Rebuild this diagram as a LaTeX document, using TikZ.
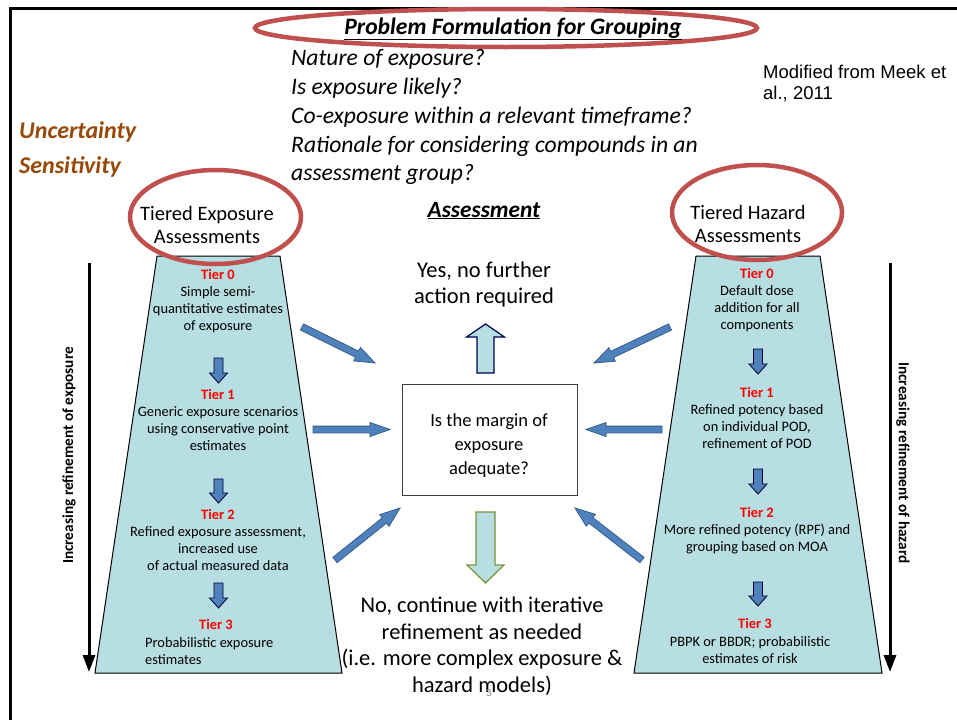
\documentclass[tikz,border=0pt]{standalone}
\usepackage{fontspec}
\setmainfont{Carlito}
\newfontfamily\arialfont{Liberation Sans}
\usetikzlibrary{calc,arrows.meta}
\definecolor{ered}{RGB}{192,80,77}
\definecolor{tblue}{RGB}{183,222,226}
\definecolor{ablue}{RGB}{79,129,189}
\definecolor{adark}{RGB}{56,93,138}
\definecolor{brownc}{RGB}{152,72,7}
\definecolor{agreen}{RGB}{119,147,60}
\newcommand{\ml}[1]{\begin{tabular}[t]{@{}c@{}}#1\end{tabular}}
\newcommand{\mll}[1]{\begin{tabular}[t]{@{}l@{}}#1\end{tabular}}
\newcommand{\tr}[1]{\textcolor{red}{\bfseries #1}}
\newcommand{\fs}[2]{\fontsize{#1}{#2}\selectfont}
% block arrow: [style]{from}{to}{shaft half}{head half}{head length}
\newcommand{\barr}[6][]{%
  \coordinate (bh) at ($(#3)!#6pt!(#2)$);
  \draw[#1] ($(#2)!#4pt!90:(#3)$) -- ($(bh)!#4pt!-90:(#2)$) -- ($(bh)!#5pt!-90:(#2)$)
    -- (#3) -- ($(bh)!#5pt!90:(#2)$) -- ($(bh)!#4pt!90:(#2)$) -- ($(#2)!#4pt!-90:(#3)$) -- cycle;}
\begin{document}
\begin{tikzpicture}[x=1pt,y=-1pt,
  every node/.style={inner sep=0pt},
  trap/.style={fill=tblue, draw=black, line width=1pt},
  ring/.style={draw=ered, line width=4.5pt},
  bluearr/.style={fill=ablue, draw=adark, line width=0.8pt, line join=miter},
  tierarr/.style={fill=ablue, draw=black!80!blue, line width=0.8pt},
  uparr/.style={fill=tblue, draw=black!70!blue, line width=1.2pt},
  downarr/.style={fill=tblue, draw=agreen, line width=1.2pt},
  sidearr/.style={line width=3pt, -{Triangle[width=12pt,length=17pt]}},
  qtext/.style={anchor=base west, font=\itshape\fs{23.6}{28}},
  bigtext/.style={anchor=base, font=\fs{22.5}{26.7}},
  tiertext/.style={anchor=base, font=\fs{14.4}{17}},
  rottext/.style={font=\bfseries\fs{15.3}{18}},
  ringtext/.style={anchor=base, font=\fs{20.5}{23}}]
\useasboundingbox (0,0) rectangle (957,720);
\fill[white] (0,0) rectangle (957,720);
% frame
\draw[line width=3pt] (957,8) -- (10,8) -- (10,720);

% trapezoids
\draw[trap] (157,256) -- (280,256) -- (342,673) -- (95,673) -- cycle;
\draw[trap] (696,256) -- (820,256) -- (882,673) -- (634,673) -- cycle;

% rings
\draw[ring] (506,28) ellipse [x radius=251pt, y radius=19pt];
\draw[ring] (215.5,217) ellipse [x radius=85.5pt, y radius=47pt];
\draw[ring] (757,212.5) ellipse [x radius=85pt, y radius=47.5pt];

% title and questions
\node[anchor=base, font=\bfseries\itshape\fs{23.6}{28}] (title) at (513,34) {\underline{Problem Formulation for Grouping}};
\node[qtext] (q1) at (291,65) {Nature of exposure?};
\node[qtext] (q2) at (291,94.5) {Is exposure likely?};
\node[qtext] (q3) at (291,123) {Co-exposure within a relevant timeframe?};
\node[qtext] (q4) at (291,152) {Rationale for considering compounds in an};
\node[qtext] (q5) at (291,180.5) {assessment group?};
\node[anchor=base west, font=\arialfont\fs{18.5}{21}] (meek) at (763,78) {\mll{Modified from Meek et\\al., 2011}};
\node[anchor=base west, font=\bfseries\itshape\fs{24}{28}, text=brownc] (unc) at (19,138) {Uncertainty};
\node[anchor=base west, font=\bfseries\itshape\fs{24}{28}, text=brownc] (sens) at (19,173) {Sensitivity};
\node[anchor=base, font=\bfseries\itshape\fs{23.3}{28}] (assess) at (484,217) {\underline{Assessment}};

% ring texts
\node[ringtext] (tex) at (207,220) {\ml{Tiered Exposure\\Assessments}};
\node[ringtext] (thz) at (748,219) {\ml{Tiered Hazard\\Assessments}};

% left tiers
\node[tiertext] (le0) at (218,279) {\ml{\tr{Tier 0}\\Simple semi-\\quantitative estimates\\of exposure}};
\node[tiertext] (le1) at (218,399) {\ml{\tr{Tier 1}\\Generic exposure scenarios\\using conservative point\\estimates}};
\node[tiertext] (le2) at (218,519) {\ml{\tr{Tier 2}\\Refined exposure assessment,\\increased use\\of actual measured data}};
\node[tiertext] (le3) at (216,629) {\tr{Tier 3}};
\node[tiertext, anchor=base west] (le3d) at (145,647) {\mll{Probabilistic exposure\\estimates}};

% right tiers
\node[tiertext] (rh0) at (757,278) {\ml{\tr{Tier 0}\\Default dose\\addition for all\\components}};
\node[tiertext] (rh1) at (757,397) {\ml{\tr{Tier 1}\\Refined potency based\\on individual POD,\\refinement of POD}};
\node[tiertext] (rh2) at (757,517) {\ml{\tr{Tier 2}\\More refined potency (RPF) and\\grouping based on MOA}};
\node[tiertext] (rh3) at (755,628) {\tr{Tier 3}};
\node[tiertext] (rh3d) at (750,646) {\ml{PBPK or BBDR; probabilistic\\estimates of risk}};

% tier arrows
\coordinate (la1s) at (218.5,358); \coordinate (la1t) at (218.5,383);
\coordinate (la2s) at (218.5,479); \coordinate (la2t) at (218.5,503);
\coordinate (la3s) at (218.5,583); \coordinate (la3t) at (218.5,608);
\coordinate (ra1s) at (758,349); \coordinate (ra1t) at (758,374);
\coordinate (ra2s) at (758,469); \coordinate (ra2t) at (758,494);
\coordinate (ra3s) at (758,582); \coordinate (ra3t) at (758,606);
\barr[tierarr]{la1s}{la1t}{4.5}{9}{10}
\barr[tierarr]{la2s}{la2t}{4.5}{9}{10}
\barr[tierarr]{la3s}{la3t}{4.5}{9}{10}
\barr[tierarr]{ra1s}{ra1t}{4.5}{9}{10}
\barr[tierarr]{ra2s}{ra2t}{4.5}{9}{10}
\barr[tierarr]{ra3s}{ra3t}{4.5}{9}{10}

% side arrows and labels
\coordinate (ls0) at (89,263); \coordinate (ls1) at (89,672);
\coordinate (rs0) at (890,263); \coordinate (rs1) at (890,672);
\draw[sidearr] (ls0) -- (ls1);
\draw[sidearr] (rs0) -- (rs1);
\node[rottext, rotate=90] (lrot) at (69,455.5) {Increasing refinement of exposure};
\node[rottext, rotate=-90] (rrot) at (903,463) {Increasing refinement of hazard};

% center
\node[bigtext] (yes) at (484,277) {\ml{Yes, no further\\action required}};
\node[draw=black!75, line width=0.9pt, minimum width=175pt, minimum height=111pt] (box) at (489.5,439.5) {};
\node[anchor=base, font=\fs{18.5}{24}] (boxt) at (489,426) {\ml{Is the margin of\\exposure\\adequate?}};
\node[bigtext] (no) at (482,612.5) {\ml{No, continue with iterative\\refinement as needed\\(i.e. more complex exposure \&\\hazard models)}};
\node[font=\fs{11}{12}, text=black!45] (pg) at (489,693) {3};

\coordinate (ups) at (485.5,373); \coordinate (upt) at (485.5,324);
\coordinate (dns) at (485.5,512); \coordinate (dnt) at (485.5,583);
\barr[uparr]{ups}{upt}{8.5}{19}{13}
\barr[downarr]{dns}{dnt}{9.5}{18.5}{18}

% blue arrows
\coordinate (ul0) at (302,327); \coordinate (ul1) at (375,363);
\coordinate (ml0) at (313,429.5); \coordinate (ml1) at (390,429.5);
\coordinate (ll0) at (335,560); \coordinate (ll1) at (400,508);
\coordinate (ur0) at (670,327); \coordinate (ur1) at (594,363);
\coordinate (mr0) at (662,429.5); \coordinate (mr1) at (586,429.5);
\coordinate (lr0) at (642,560); \coordinate (lr1) at (575,508);
\barr[bluearr]{ul0}{ul1}{3.4}{7.5}{20}
\barr[bluearr]{ml0}{ml1}{3.4}{7}{20}
\barr[bluearr]{ll0}{ll1}{3.4}{7.5}{20}
\barr[bluearr]{ur0}{ur1}{3.4}{7.5}{20}
\barr[bluearr]{mr0}{mr1}{3.4}{7}{20}
\barr[bluearr]{lr0}{lr1}{3.4}{7.5}{20}
\end{tikzpicture}
\end{document}
